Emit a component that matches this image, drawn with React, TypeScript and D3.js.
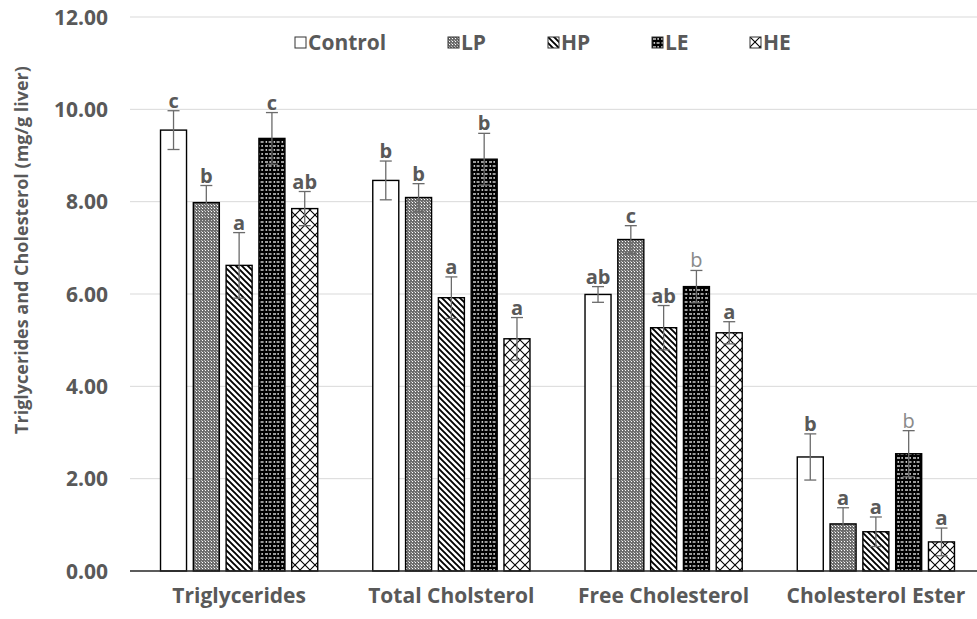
import React from "react";
import * as d3 from "d3";

// Lipid measures (x categories) and treatment groups (series)
const categories = ["Triglycerides", "Total Cholsterol", "Free Cholesterol", "Cholesterol Ester"];
const groups = ["Control", "LP", "HP", "LE", "HE"];

// Mean values (mg/g liver), one array per group, in category order
const controlValues = [9.55, 8.46, 5.99, 2.47];
const lpValues = [7.98, 8.09, 7.18, 1.02];
const hpValues = [6.62, 5.92, 5.27, 0.85];
const leValues = [9.37, 8.92, 6.16, 2.54];
const heValues = [7.85, 5.03, 5.16, 0.63];

// Standard errors
const controlErrors = [0.42, 0.42, 0.17, 0.5];
const lpErrors = [0.37, 0.3, 0.3, 0.35];
const hpErrors = [0.71, 0.45, 0.48, 0.32];
const leErrors = [0.56, 0.56, 0.35, 0.5];
const heErrors = [0.37, 0.46, 0.24, 0.3];

// Significance letters
const controlLetters = ["c", "b", "ab", "b"];
const lpLetters = ["b", "b", "c", "a"];
const hpLetters = ["a", "a", "ab", "a"];
const leLetters = ["c", "b", "b", "b"];
const heLetters = ["ab", "a", "a", "a"];

const yTicks = [0, 2, 4, 6, 8, 10, 12];

const values = [controlValues, lpValues, hpValues, leValues, heValues];
const errors = [controlErrors, lpErrors, hpErrors, leErrors, heErrors];
const letters = [controlLetters, lpLetters, hpLetters, leLetters, heLetters];

// letters typed in a lighter, regular weight
const lightLetters = new Set(["Free Cholesterol|LE", "Cholesterol Ester|LE"]);

const W = 977;
const H = 619;
const FONT = "'Open Sans', sans-serif";
const TEXT = "#595959";

const patternIds: Record<string, string> = {
  Control: "",
  LP: "pat-lp",
  HP: "pat-hp",
  LE: "pat-le",
  HE: "pat-he",
};

const fillFor = (g: string) => (patternIds[g] ? `url(#${patternIds[g]})` : "#ffffff");

export default function App() {
  const y = d3.scaleLinear().domain([0, 12]).range([571, 17]);
  const x = d3.scaleBand<string>().domain(categories).range([133, 982]).padding(0);
  const inner = d3
    .scaleBand<string>()
    .domain(groups)
    .range([-82, 82])
    .paddingInner(0.207)
    .paddingOuter(0.1035);

  const gridLeft = 130;
  const gridRight = W;

  const legendX = [295, 448, 548, 652, 750];

  return (
    <svg
      width={W}
      height={H}
      style={{ position: "absolute", left: 0, top: 0, background: "#fff" }}
      fontFamily={FONT}
    >
      <defs>
        <pattern id="pat-lp" patternUnits="userSpaceOnUse" width="3" height="3">
          <rect width="3" height="3" fill="#6e6e6e" />
          <rect x="1" y="1" width="1" height="1" fill="#ffffff" />
          <rect x="0" y="0" width="1" height="1" fill="#bdbdbd" />
        </pattern>
        <pattern id="pat-hp" patternUnits="userSpaceOnUse" width="6" height="6">
          <rect width="6" height="6" fill="#ffffff" />
          <path d="M-3,3 L3,9 M0,0 L6,6 M3,-3 L9,3" stroke="#000" strokeWidth="1.9" />
        </pattern>
        <pattern id="pat-le" patternUnits="userSpaceOnUse" width="8" height="8">
          <rect width="8" height="8" fill="#000" />
          <rect x="1" y="1.4" width="3" height="1.2" fill="#ffffff" />
          <rect x="5.4" y="1.2" width="1.5" height="1.5" fill="#ffffff" />
          <rect x="1.6" y="5.2" width="1.5" height="1.5" fill="#ffffff" />
          <rect x="4.6" y="5.4" width="3" height="1.2" fill="#ffffff" />
        </pattern>
        <pattern id="pat-he" patternUnits="userSpaceOnUse" width="10" height="10">
          <rect width="10" height="10" fill="#ffffff" />
          <path d="M0,0 L10,10 M10,0 L0,10" stroke="#000" strokeWidth="1.1" />
        </pattern>
      </defs>

      {/* gridlines */}
      {yTicks.slice(1).map((t) => (
        <line
          key={`g${t}`}
          x1={gridLeft}
          x2={gridRight}
          y1={y(t)}
          y2={y(t)}
          stroke="#d9d9d9"
          strokeWidth={1}
        />
      ))}

      {/* y tick labels */}
      {yTicks.map((t) => (
        <text
          key={`t${t}`}
          x={108}
          y={y(t)}
          dy="0.36em"
          textAnchor="end"
          fontSize={21}
          fontWeight="bold"
          fill={TEXT}
        >
          {t.toFixed(2)}
        </text>
      ))}

      {/* y axis title */}
      <text
        transform={`translate(28,${250}) rotate(-90)`}
        textAnchor="middle"
        fontSize={18}
        fontWeight="bold"
        fill={TEXT}
      >
        Triglycerides and Cholesterol (mg/g liver)
      </text>

      {/* bars */}
      {categories.map((c, ci) => {
        const cx = (x(c) as number) + x.bandwidth() / 2;
        return (
          <g key={c}>
            {groups.map((g, gi) => {
              const v = values[gi][ci];
              const bx = cx + (inner(g) as number);
              return (
                <rect
                  key={g}
                  x={bx}
                  y={y(v)}
                  width={inner.bandwidth()}
                  height={y(0) - y(v)}
                  fill={fillFor(g)}
                  stroke="#000"
                  strokeWidth={1.4}
                />
              );
            })}
          </g>
        );
      })}

      {/* axis line */}
      <line x1={gridLeft} x2={gridRight} y1={y(0)} y2={y(0)} stroke="#262626" strokeWidth={1.4} />

      {/* error bars and letters */}
      {categories.map((c, ci) => {
        const cx = (x(c) as number) + x.bandwidth() / 2;
        return (
          <g key={`e${c}`}>
            {groups.map((g, gi) => {
              const v = values[gi][ci];
              const e = errors[gi][ci];
              const mx = cx + (inner(g) as number) + inner.bandwidth() / 2;
              const top = y(v + e);
              const bot = y(v - e);
              const light = lightLetters.has(`${c}|${g}`);
              return (
                <g key={g}>
                  <line x1={mx} x2={mx} y1={top} y2={bot} stroke="#6b6b6b" strokeWidth={1.3} />
                  <line x1={mx - 6} x2={mx + 6} y1={top} y2={top} stroke="#6b6b6b" strokeWidth={1.3} />
                  <line x1={mx - 6} x2={mx + 6} y1={bot} y2={bot} stroke="#6b6b6b" strokeWidth={1.3} />
                  <text
                    x={mx}
                    y={top - 3}
                    textAnchor="middle"
                    fontSize={20}
                    fontWeight={light ? "normal" : "bold"}
                    fill={light ? "#8a8a8a" : TEXT}
                  >
                    {letters[gi][ci]}
                  </text>
                </g>
              );
            })}
          </g>
        );
      })}

      {/* x labels */}
      {categories.map((c) => (
        <text
          key={`x${c}`}
          x={(x(c) as number) + x.bandwidth() / 2}
          y={603}
          textAnchor="middle"
          fontSize={21}
          fontWeight="bold"
          fill={TEXT}
        >
          {c}
        </text>
      ))}

      {/* legend */}
      {groups.map((g, gi) => (
        <g key={`l${g}`} transform={`translate(${legendX[gi]},37)`}>
          <rect x={0} y={0} width={11} height={11} fill={fillFor(g)} stroke="#333" strokeWidth={1} />
          <text x={13} y={5.5} dy="0.36em" fontSize={21} fontWeight="bold" fill={TEXT}>
            {g}
          </text>
        </g>
      ))}
    </svg>
  );
}
